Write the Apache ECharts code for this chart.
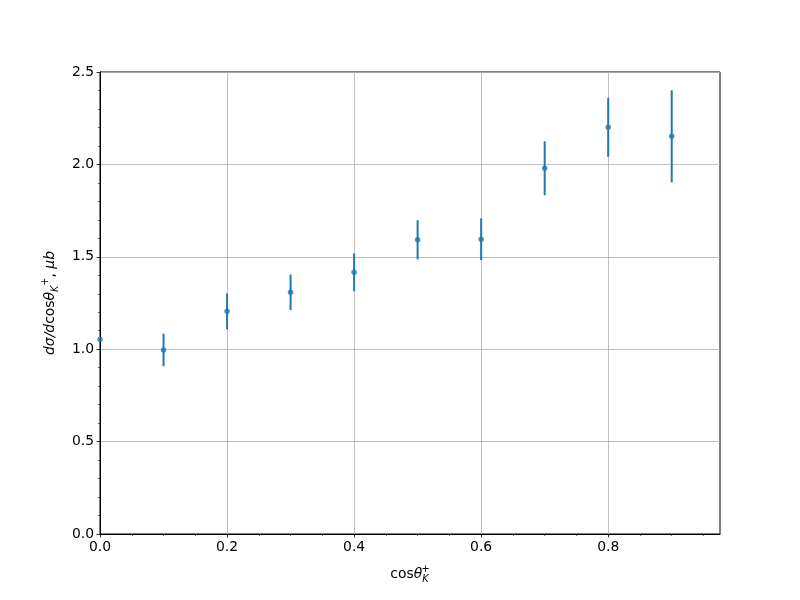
<!DOCTYPE html>
<html><head><meta charset="utf-8">
<script src="https://cdn.jsdelivr.net/npm/echarts@6/dist/echarts.min.js"></script>
<style>html,body{margin:0;padding:0;background:#fff}#c{width:800px;height:600px}</style>
</head><body><div id="c"></div>
<script>
var xValues = [0.0, 0.1, 0.2, 0.3, 0.4, 0.5, 0.6, 0.7, 0.8, 0.9];
var yValues = [1.053, 0.996, 1.205, 1.308, 1.416, 1.592, 1.595, 1.979, 2.201, 2.152];
var yErrors = [0.0, 0.088, 0.097, 0.096, 0.102, 0.106, 0.113, 0.146, 0.160, 0.249];
var xTicks = [0.0, 0.2, 0.4, 0.6, 0.8];
var yTicks = [0.0, 0.5, 1.0, 1.5, 2.0, 2.5];

var blue = '#1f77b4';
var font = 'DejaVu Sans';
var pts = xValues.map(function(x, i){ return [x, yValues[i]]; });
var errs = xValues.map(function(x, i){ return [x, yValues[i] - yErrors[i], yValues[i] + yErrors[i]]; });

var chart = echarts.init(document.getElementById('c'), null, {renderer: 'canvas'});
chart.setOption({
  animation: false,
  backgroundColor: '#fff',
  grid: {left: 100, right: 80, top: 72, bottom: 66, show: true, borderColor: '#000', borderWidth: 1, backgroundColor: 'transparent'},
  xAxis: {
    type: 'value', min: 0, max: 0.976, interval: 0.2,
    axisLine: {show: true, onZero: false, lineStyle: {color: '#000', width: 1}},
    axisTick: {show: true, length: 3.5, customValues: xTicks, lineStyle: {color: '#000', width: 0.8}},
    minorTick: {show: true, splitNumber: 4, length: 2, lineStyle: {color: '#000', width: 0.6}},
    axisLabel: {fontFamily: font, fontSize: 13.9, color: '#000', margin: 6, showMaxLabel: false,
      formatter: function(v){ return v.toFixed(1); }},
    splitLine: {show: true, lineStyle: {color: '#b0b0b0', width: 0.8}},
    name: '{n|cos}{i|θ}{sub|K}{sup|+}',
    nameLocation: 'middle', nameGap: 30,
    nameTextStyle: {fontFamily: font, fontSize: 13.9, color: '#000',
      rich: {
        n: {fontFamily: font, fontSize: 13.9, color: '#000'},
        i: {fontFamily: font, fontSize: 13.9, fontStyle: 'italic', color: '#000'},
        sub: {fontFamily: font, fontSize: 9.7, fontStyle: 'italic', color: '#000', verticalAlign: 'bottom', padding: [8, 0, 0, 0]},
        sup: {fontFamily: font, fontSize: 9.7, color: '#000', verticalAlign: 'top', padding: [0, 0, 10, -7]}
      }}
  },
  yAxis: {
    type: 'value', min: 0, max: 2.5, interval: 0.5,
    axisLine: {show: true, onZero: false, lineStyle: {color: '#000', width: 1}},
    axisTick: {show: true, length: 3.5, lineStyle: {color: '#000', width: 0.8}},
    minorTick: {show: true, splitNumber: 5, length: 2, lineStyle: {color: '#000', width: 0.6}},
    axisLabel: {fontFamily: font, fontSize: 13.9, color: '#000', margin: 6,
      formatter: function(v){ return v.toFixed(1); }},
    splitLine: {show: true, lineStyle: {color: '#b0b0b0', width: 0.8}},
    name: '{i|dσ/d}{n|cos}{i|θ}{sub|K}{sup|+}{n|, }{i|μb}',
    nameLocation: 'middle', nameGap: 40,
    nameTextStyle: {fontFamily: font, fontSize: 13.9, color: '#000',
      rich: {
        n: {fontFamily: font, fontSize: 13.9, color: '#000'},
        i: {fontFamily: font, fontSize: 13.9, fontStyle: 'italic', color: '#000'},
        sub: {fontFamily: font, fontSize: 9.7, fontStyle: 'italic', color: '#000', verticalAlign: 'bottom', padding: [8, 0, 0, 0]},
        sup: {fontFamily: font, fontSize: 9.7, color: '#000', verticalAlign: 'top', padding: [0, 0, 10, 0]}
      }}
  },
  series: [
    {
      type: 'custom',
      clip: true,
      data: errs,
      renderItem: function(params, api){
        var lo = api.coord([api.value(0), api.value(1)]);
        var hi = api.coord([api.value(0), api.value(2)]);
        return {type: 'line', shape: {x1: lo[0], y1: lo[1], x2: hi[0], y2: hi[1]},
          style: {stroke: blue, lineWidth: 2}};
      },
      z: 3
    },
    {
      type: 'scatter', data: pts, symbol: 'circle', symbolSize: 5.5, clip: true,
      itemStyle: {color: blue}, z: 4
    }
  ]
});
</script></body></html>
